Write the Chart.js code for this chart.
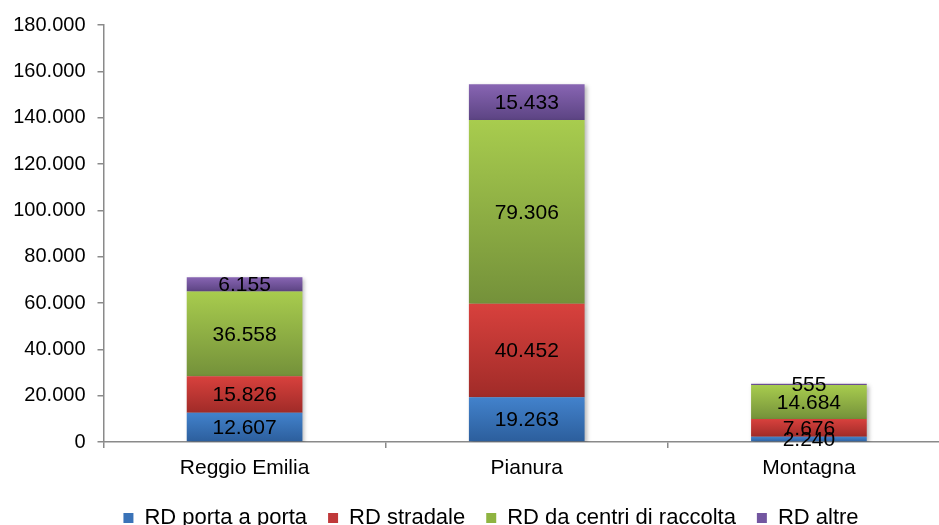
<!DOCTYPE html>
<html>
<head>
<meta charset="utf-8">
<script src="https://cdn.jsdelivr.net/npm/chart.js@4/dist/chart.umd.min.js"></script>
<style>
  html, body { margin: 0; padding: 0; background: #fff; overflow: hidden; }
  #wrap { width: 950px; height: 525px; }
</style>
</head>
<body>
<div id="wrap"><canvas id="chart" width="950" height="525"></canvas></div>
<script>
// data
const categories = ["Reggio Emilia", "Pianura", "Montagna"];
const seriesNames = ["RD porta a porta", "RD stradale", "RD da centri di raccolta", "RD altre"];
const portaAPorta = [12607, 19263, 2240];
const stradale = [15826, 40452, 7676];
const centriRaccolta = [36558, 79306, 14684];
const altre = [6155, 15433, 555];
const yMax = 180000;
const yStep = 20000;

const FONT = "'Liberation Sans', Arial, sans-serif";

// top / bottom of the gradient, and legend swatch colour
const palette = [
  { top: "#4282cc", bottom: "#2c5e9c", solid: "#3a73b8" },
  { top: "#d8413d", bottom: "#a02b28", solid: "#c0393a" },
  { top: "#a8cc4e", bottom: "#74913a", solid: "#8fb441" },
  { top: "#8865b3", bottom: "#5c4483", solid: "#7356a0" }
];

const series = [portaAPorta, stradale, centriRaccolta, altre];

// italian thousands separator
function fmt(v) {
  return String(v).replace(/\B(?=(\d{3})+(?!\d))/g, ".");
}

function barGradient(dsIndex) {
  return function (c) {
    const chart = c.chart;
    const y = chart.scales.y;
    if (!chart.chartArea || !y || c.type !== "data") return palette[dsIndex].solid;
    let base = 0;
    for (let k = 0; k < dsIndex; k++) base += series[k][c.dataIndex];
    const top = base + series[dsIndex][c.dataIndex];
    const y0 = y.getPixelForValue(top);
    const y1 = y.getPixelForValue(base);
    if (!isFinite(y0) || !isFinite(y1) || y0 === y1) return palette[dsIndex].solid;
    const g = chart.ctx.createLinearGradient(0, y0, 0, y1);
    g.addColorStop(0, palette[dsIndex].top);
    g.addColorStop(1, palette[dsIndex].bottom);
    return g;
  };
}

// =========================
//  PLUGINS
// =========================
const legendShift = {
  id: "legendShift",
  beforeLayout(chart) {
    const lg = chart.legend;
    if (!lg || lg._fitPatched) return;
    const origFit = lg.fit;
    lg.fit = function () {
      origFit.call(this);
      this.height = 39;
    };
    lg._fitPatched = true;
  },
  afterLayout(chart) {
    const lg = chart.legend;
    if (!lg) return;
    lg.left += 16; lg.right += 16;
  }
};

const barShadow = {
  id: "barShadow",
  beforeDatasetsDraw(chart) {
    const ctx = chart.ctx;
    ctx.save();
    ctx.shadowColor = "rgba(0,0,0,0.28)";
    ctx.shadowBlur = 4;
    ctx.shadowOffsetX = 2;
    ctx.shadowOffsetY = 2;
  },
  afterDatasetsDraw(chart) {
    chart.ctx.restore();
  }
};

const valueLabels = {
  id: "valueLabels",
  afterDatasetsDraw(chart) {
    const ctx = chart.ctx;
    ctx.save();
    ctx.font = "21px " + FONT;
    ctx.fillStyle = "#000";
    ctx.textAlign = "center";
    ctx.textBaseline = "middle";
    chart.data.datasets.forEach((ds, i) => {
      const meta = chart.getDatasetMeta(i);
      meta.data.forEach((bar, j) => {
        const yMid = (bar.y + bar.base) / 2;
        ctx.fillText(fmt(ds.data[j]), bar.x, yMid + 1);
      });
    });
    ctx.restore();
  }
};

// =========================
//  CHART
// =========================
new Chart(document.getElementById("chart"), {
  type: "bar",
  data: {
    labels: categories,
    datasets: series.map((vals, i) => ({
      label: seriesNames[i],
      data: vals,
      backgroundColor: barGradient(i),
      borderWidth: 0,
      categoryPercentage: 1,
      barPercentage: 0.41
    }))
  },
  options: {
    responsive: false,
    animation: false,
    devicePixelRatio: 1,
    layout: { padding: { left: 0, right: 0, top: 25, bottom: 0 } },
    plugins: {
      tooltip: { enabled: false },
      legend: {
        position: "bottom",
        labels: {
          boxWidth: 10,
          boxHeight: 10,
          padding: 21,
          color: "#000",
          font: { family: FONT, size: 22 },
          generateLabels: () => seriesNames.map((n, i) => ({
            text: n,
            fillStyle: palette[i].solid,
            strokeStyle: palette[i].solid,
            lineWidth: 0,
            datasetIndex: i
          }))
        }
      }
    },
    scales: {
      x: {
        stacked: true,
        grid: { drawOnChartArea: false, offset: true, tickLength: 6, color: "#8a8a8a", lineWidth: 1.5 },
        border: { color: "#8a8a8a", width: 1.5 },
        ticks: { color: "#000", font: { family: FONT, size: 21 }, padding: 8 },
        afterFit(s) { s.height = 44; }
      },
      y: {
        stacked: true,
        min: 0,
        max: yMax,
        grid: { drawOnChartArea: false, tickLength: 6, color: "#8a8a8a", lineWidth: 1.5 },
        border: { color: "#8a8a8a", width: 1.5 },
        ticks: {
          stepSize: yStep,
          color: "#000",
          font: { family: FONT, size: 20 },
          padding: 12,
          callback: v => fmt(v)
        },
        afterFit(s) { s.width = 103.5; }
      }
    }
  },
  plugins: [legendShift, barShadow, valueLabels]
});
</script>
</body>
</html>
